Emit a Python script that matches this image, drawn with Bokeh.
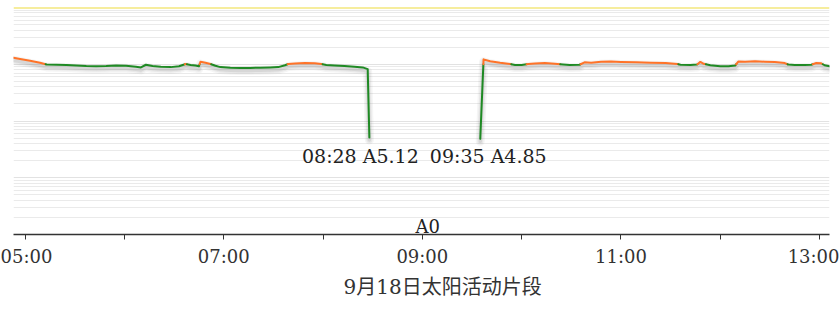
import numpy as np
import pandas as pd
from bokeh.plotting import figure
from bokeh.models import FixedTicker, DatetimeTickFormatter, Span, Title, Range1d
from bokeh.core.properties import value
from bokeh.embed import file_html
from bokeh.resources import INLINE

DAY = "2024-09-18"
TITLE = "9月18日太阳活动片段"

# GOES 1-8 A soft X-ray flux (W/m^2), before and after the data gap
morning_times = [
    "04:53", "04:57", "05:03", "05:09", "05:13", "05:19", "05:25", "05:31",
    "05:37", "05:43", "05:49", "05:55", "06:01", "06:07", "06:10", "06:13",
    "06:17", "06:22", "06:28", "06:33", "06:37", "06:40", "06:43", "06:45",
    "06:46", "06:49", "06:52", "06:55", "06:58", "07:04", "07:10", "07:16",
    "07:22", "07:28", "07:33", "07:37", "07:39", "07:43", "07:49", "07:55",
    "07:59", "08:02", "08:07", "08:13", "08:19", "08:24", "08:27", "08:28",
]
morning_flux = [
    1.30e-6, 1.24e-6, 1.15e-6, 1.06e-6, 9.9e-7, 9.8e-7, 9.7e-7, 9.5e-7,
    9.3e-7, 9.2e-7, 9.3e-7, 9.5e-7, 9.4e-7, 9.0e-7, 8.8e-7, 9.8e-7,
    9.3e-7, 9.0e-7, 8.9e-7, 9.2e-7, 1.01e-6, 9.7e-7, 9.5e-7, 9.2e-7,
    1.11e-6, 1.06e-6, 1.01e-6, 9.4e-7, 8.9e-7, 8.7e-7, 8.6e-7, 8.6e-7,
    8.7e-7, 8.8e-7, 8.9e-7, 9.6e-7, 1.01e-6, 1.03e-6, 1.05e-6, 1.04e-6,
    1.01e-6, 9.7e-7, 9.5e-7, 9.3e-7, 9.0e-7, 8.8e-7, 8.2e-7, 5.12e-8,
]
afternoon_times = [
    "09:35", "09:37", "09:41", "09:47", "09:53", "09:56", "10:00", "10:04",
    "10:08", "10:14", "10:20", "10:25", "10:29", "10:35", "10:38", "10:42",
    "10:48", "10:54", "11:00", "11:09", "11:18", "11:27", "11:34", "11:36",
    "11:42", "11:46", "11:48", "11:50", "11:54", "12:00", "12:05", "12:09",
    "12:11", "12:15", "12:21", "12:27", "12:33", "12:39", "12:41", "12:45",
    "12:51", "12:55", "12:58", "13:01", "13:03", "13:06",
]
afternoon_flux = [
    4.85e-8, 1.22e-6, 1.13e-6, 1.06e-6, 1.01e-6, 9.7e-7, 9.7e-7, 1.01e-6,
    1.03e-6, 1.05e-6, 1.02e-6, 9.9e-7, 9.7e-7, 9.8e-7, 1.08e-6, 1.06e-6,
    1.11e-6, 1.12e-6, 1.10e-6, 1.08e-6, 1.06e-6, 1.05e-6, 1.01e-6, 9.8e-7,
    9.7e-7, 9.9e-7, 1.10e-6, 1.02e-6, 9.6e-7, 9.2e-7, 9.2e-7, 9.5e-7,
    1.12e-6, 1.11e-6, 1.13e-6, 1.11e-6, 1.10e-6, 1.05e-6, 9.9e-7, 9.7e-7,
    9.7e-7, 9.8e-7, 1.05e-6, 1.04e-6, 9.6e-7, 9.2e-7,
]

x_tick_labels = ["05:00", "07:00", "09:00", "11:00", "13:00"]
x_minor_times = ["06:00", "08:00", "10:00", "12:00"]
x_start, x_end = "04:53", "13:06"
y_decades = [1e-9, 1e-8, 1e-7, 1e-6, 1e-5]
C_LEVEL = 1e-6   # C-class threshold
M_LEVEL = 1e-5   # M-class threshold
gap_text = "A0"

ORANGE = "#ff7328"
GREEN = "#1f8a24"
SERIF = "DejaVu Serif"


def ms(hhmm):
    return pd.Timestamp(f"{DAY} {hhmm}").value / 1e6


def a_class(flux):
    return f"A{flux / 1e-8:.2f}"


def split_by_level(xs, ys, level):
    """Cut a polyline where it crosses `level` (log space) so each run has one colour."""
    lv = np.log10(level)
    ly = np.log10(ys)
    runs = []
    flag = ys[0] >= level
    cx, cy = [xs[0]], [ys[0]]
    for i in range(1, len(xs)):
        f_i = ys[i] >= level
        if f_i != flag:
            frac = (lv - ly[i - 1]) / (ly[i] - ly[i - 1])
            xc = xs[i - 1] + frac * (xs[i] - xs[i - 1])
            cx.append(xc)
            cy.append(level)
            runs.append((flag, cx, cy))
            flag = f_i
            cx, cy = [xc], [level]
        cx.append(xs[i])
        cy.append(ys[i])
    runs.append((flag, cx, cy))
    return runs


p = figure(
    width=839, height=321,
    x_axis_type="datetime", y_axis_type="log",
    x_range=Range1d(ms(x_start), ms(x_end)),
    y_range=Range1d(1e-9, 1e-5),
    output_backend="svg", toolbar_location=None,
    min_border_left=13, min_border_right=10,
    min_border_top=7, min_border_bottom=87,
)
p.outline_line_color = None
p.background_fill_color = "white"
p.border_fill_color = "white"

p.yaxis.visible = False
p.xgrid.visible = False
p.ygrid.ticker = FixedTicker(
    ticks=y_decades,
    minor_ticks=[k * d for d in y_decades[:-1] for k in range(2, 10)],
)
p.ygrid.grid_line_color = "#e2e2e2"
p.ygrid.minor_grid_line_color = "#eaeaea"

xa = p.xaxis[0]
xa.ticker = FixedTicker(ticks=[ms(t) for t in x_tick_labels],
                        minor_ticks=[ms(t) for t in x_minor_times])
fmt = "%H:%M"
xa.formatter = DatetimeTickFormatter(minutes=fmt, hourmin=fmt, hours=fmt, days=fmt)
xa.axis_line_color = "#333333"
xa.axis_line_width = 1.5
xa.major_tick_line_color = "#333333"
xa.minor_tick_line_color = "#333333"
xa.major_tick_in = 0
xa.major_tick_out = 5
xa.minor_tick_in = 0
xa.minor_tick_out = 5
xa.major_label_standoff = 6
xa.major_label_text_font = SERIF
xa.major_label_text_font_size = "18px"
xa.major_label_text_color = "#333333"

# M-class reference line along the top
p.add_layout(Span(location=M_LEVEL, dimension="width",
                  line_color="#eedc3c", line_width=2))

for times, flux in [(morning_times, morning_flux), (afternoon_times, afternoon_flux)]:
    xs = [ms(t) for t in times]
    ys = list(flux)
    shifted = [v * 10 ** (-2.5 / 56.75) for v in ys]
    for w, a in [(9, 0.06), (6, 0.08), (3.5, 0.11)]:
        p.line(xs, shifted, line_color="#555555", line_width=w, line_alpha=a,
               line_join="round", line_cap="round")
    runs = split_by_level(xs, ys, C_LEVEL)
    p.multi_line(
        xs=[r[1] for r in runs], ys=[r[2] for r in runs],
        line_color=[ORANGE if r[0] else GREEN for r in runs],
        line_width=2, line_join="round", line_cap="round",
    )

# labels at the edges of the data gap
gap_x = [ms(morning_times[-1]), ms(afternoon_times[0])]
gap_y = [morning_flux[-1], afternoon_flux[0]]
gap_labels = [f"{morning_times[-1]} {a_class(morning_flux[-1])}",
              f"{afternoon_times[0]} {a_class(afternoon_flux[0])}"]
p.text(x=gap_x, y=gap_y, text=gap_labels,
       x_offset=[-9, 8], y_offset=[8, 6],
       text_align="center", text_baseline="top",
       text_font=value(SERIF), text_font_size="19px", text_color="#222222")

p.text(x=[(gap_x[0] + gap_x[1]) / 2], y=[1e-9], text=[gap_text],
       x_offset=3, y_offset=2, text_align="center", text_baseline="bottom",
       text_font=value(SERIF), text_font_size="18px", text_color="#222222")

p.add_layout(Title(text=TITLE, align="left", offset=330,
                   text_font="DejaVu Serif, Noto Sans CJK SC",
                   text_font_size="20px", text_font_style="normal",
                   text_color="#333333", standoff=7), "below")

open("out.html", "w").write(file_html(p, INLINE))
